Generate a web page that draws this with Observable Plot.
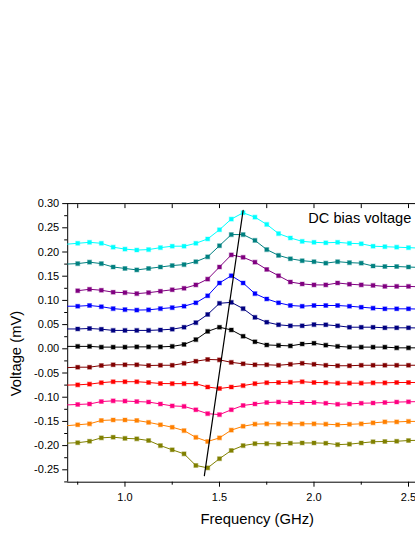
<!DOCTYPE html>
<html><head><meta charset="utf-8">
<script src="https://cdn.jsdelivr.net/npm/d3@7"></script>
<script src="https://cdn.jsdelivr.net/npm/@observablehq/plot@0.6"></script>
<style>body{margin:0;background:#fff}</style>
</head><body><div id="chart"></div>
<script>
const freq = [0.6875, 0.75, 0.8125, 0.875, 0.9375, 1.0, 1.0625, 1.125, 1.1875, 1.25, 1.3125, 1.375, 1.4375, 1.5, 1.5625, 1.625, 1.6875, 1.75, 1.8125, 1.875, 1.9375, 2.0, 2.0625, 2.125, 2.1875, 2.25, 2.3125, 2.375, 2.4375, 2.5, 2.5625];

const cyan = [0.216,0.218,0.220,0.218,0.210,0.206,0.204,0.205,0.209,0.212,0.212,0.218,0.227,0.246,0.268,0.281,0.272,0.257,0.238,0.229,0.222,0.220,0.219,0.220,0.218,0.217,0.212,0.211,0.210,0.209,0.208];
const teal = [0.175,0.176,0.179,0.176,0.169,0.166,0.163,0.166,0.169,0.172,0.174,0.180,0.190,0.213,0.236,0.236,0.224,0.205,0.193,0.186,0.182,0.180,0.177,0.180,0.178,0.177,0.171,0.170,0.170,0.169,0.168];
const purple = [null,0.120,0.123,0.121,0.117,0.116,0.114,0.116,0.119,0.122,0.125,0.132,0.144,0.169,0.194,0.189,0.179,0.164,0.151,0.138,0.134,0.132,0.132,0.136,0.1335,0.132,0.131,0.129,0.129,0.129,0.128];
const blue = [0.088,0.088,0.0895,0.087,0.083,0.081,0.080,0.0805,0.083,0.085,0.088,0.095,0.1095,0.136,0.151,0.136,0.114,0.103,0.095,0.0895,0.088,0.0895,0.0895,0.0895,0.088,0.086,0.084,0.0826,0.0826,0.0826,0.082];
const navy = [0.041,0.041,0.042,0.0405,0.038,0.038,0.038,0.038,0.039,0.0405,0.0446,0.054,0.071,0.094,0.096,0.083,0.065,0.055,0.0496,0.0475,0.0475,0.050,0.0496,0.0475,0.0446,0.0446,0.0446,0.0434,0.0434,0.0434,0.043];
const black = [0.005,0.005,0.005,0.0035,0.0035,0.0035,0.004,0.004,0.004,0.005,0.009,0.019,0.036,0.0446,0.039,0.026,0.0145,0.008,0.007,0.006,0.010,0.0116,0.0075,0.005,0.0035,0.0035,0.0035,0.0035,0.002,0.002,0.002];
const darkRed = [-0.039,-0.038,-0.038,-0.0345,-0.033,-0.033,-0.033,-0.0345,-0.034,-0.034,-0.030,-0.0256,-0.022,-0.0228,-0.028,-0.031,-0.033,-0.033,-0.034,-0.032,-0.030,-0.032,-0.034,-0.035,-0.035,-0.034,-0.034,-0.034,-0.034,-0.034,-0.034];
const red = [-0.075,-0.0745,-0.073,-0.070,-0.068,-0.068,-0.068,-0.0696,-0.0717,-0.072,-0.072,-0.072,-0.079,-0.082,-0.079,-0.076,-0.072,-0.070,-0.0696,-0.069,-0.068,-0.0696,-0.070,-0.071,-0.071,-0.071,-0.0703,-0.0703,-0.0696,-0.0696,-0.0696];
const pink = [-0.116,-0.115,-0.114,-0.109,-0.1075,-0.108,-0.109,-0.110,-0.114,-0.118,-0.119,-0.126,-0.134,-0.136,-0.126,-0.117,-0.114,-0.111,-0.110,-0.111,-0.111,-0.111,-0.1124,-0.1145,-0.114,-0.1124,-0.112,-0.111,-0.110,-0.1095,-0.109];
const orange = [-0.159,-0.157,-0.155,-0.148,-0.147,-0.147,-0.148,-0.152,-0.157,-0.162,-0.169,-0.183,-0.1915,-0.184,-0.168,-0.160,-0.1557,-0.155,-0.155,-0.155,-0.155,-0.155,-0.1557,-0.157,-0.156,-0.155,-0.153,-0.151,-0.151,-0.150,-0.150];
const olive = [-0.195,-0.194,-0.191,-0.184,-0.1826,-0.185,-0.186,-0.1895,-0.200,-0.2087,-0.217,-0.241,-0.246,-0.227,-0.210,-0.200,-0.196,-0.196,-0.1965,-0.195,-0.1945,-0.1945,-0.195,-0.198,-0.197,-0.1945,-0.192,-0.1915,-0.191,-0.1895,-0.189];

const seriesColors = ["#00ffff","#008080","#800080","#0000ff","#000080","#000000","#800000","#ff0000","#ff0080","#ff8000","#808000"];
const seriesValues = [cyan, teal, purple, blue, navy, black, darkRed, red, pink, orange, olive];

const xMajor = [1.0, 1.5, 2.0, 2.5];
const xMinor = [0.75, 1.25, 1.75, 2.25];
const yMajor = [-0.25,-0.20,-0.15,-0.10,-0.05,0.00,0.05,0.10,0.15,0.20,0.25,0.30];
const yMinor = [-0.275,-0.225,-0.175,-0.125,-0.075,-0.025,0.025,0.075,0.125,0.175,0.225,0.275];
const xDomain = [0.697, 2.537];
const yDomain = [-0.2756, 0.30];

const slopeFreq = [1.42, 1.625];
const slopeVolt = [-0.262, 0.286];

const annotationText = ["DC bias voltage"];
const annotationX = [1.97];
const annotationY = [0.2686];
const xLabel = ["Frequency (GHz)"];
const xLabelPos = [1.70];
const yLabel = ["Voltage (mV)"];
const yLabelPos = [-0.0097];

const marks = [];
seriesValues.forEach((vals, k) => {
  const color = seriesColors[k];
  const rows = freq.map((f, i) => ({f, v: vals[i]})).filter(d => d.v != null);
  marks.push(Plot.line(rows, {x: "f", y: "v", stroke: color, strokeWidth: 1, clip: true}));
  marks.push(Plot.dot(rows.filter(d => d.f >= xDomain[0] && d.f <= xDomain[1]),
    {x: "f", y: "v", symbol: "square", r: 2.2, fill: color, stroke: color, strokeOpacity: 0.35, strokeWidth: 1.2}));
});

const slopeRows = slopeFreq.map((f, i) => ({f, v: slopeVolt[i]}));

const chart = Plot.plot({
  width: 415,
  height: 537,
  marginLeft: 67.2,
  marginRight: 0,
  marginTop: 203.1,
  marginBottom: 55.3,
  x: {domain: xDomain, label: null},
  y: {domain: yDomain, label: null},
  style: {fontFamily: "'Liberation Sans', Arial, sans-serif", fontSize: "11px", background: "#fff", color: "#000"},
  marks: [
    Plot.ruleY([yDomain[1]], {stroke: "#000", strokeWidth: 1}),
    Plot.ruleY([yDomain[0]], {stroke: "#000", strokeWidth: 1}),
    Plot.ruleX([xDomain[0]], {stroke: "#000", strokeWidth: 1}),
    Plot.axisY(yMajor, {tickSize: 5, tickPadding: 3.5, tickFormat: d => d.toFixed(2), label: null, fontSize: 11}),
    Plot.axisY(yMinor, {tickSize: 3, tickFormat: () => "", label: null}),
    Plot.axisX(xMajor, {tickSize: 5, tickPadding: 6, tickFormat: d => d.toFixed(1), label: null, fontSize: 11}),
    Plot.axisX(xMinor, {tickSize: 3, tickFormat: () => "", label: null}),
    Plot.axisX([...xMinor, ...xMajor], {anchor: "top", tickSize: -4, tickFormat: () => "", label: null}),
    ...marks,
    Plot.line(slopeRows, {x: "f", y: "v", stroke: "#000", strokeWidth: 1.2}),
    Plot.text(annotationText, {x: annotationX, y: annotationY, text: d => d, textAnchor: "start", lineAnchor: "middle", fontSize: 14.6, fill: "#000"}),
    Plot.text(xLabel, {x: xLabelPos, frameAnchor: "bottom", text: d => d, lineAnchor: "top", dy: 31, fontSize: 14.8, fill: "#000"}),
    Plot.text(yLabel, {y: yLabelPos, frameAnchor: "left", text: d => d, rotate: -90, dx: -51.4, lineAnchor: "middle", textAnchor: "middle", fontSize: 14.8, fill: "#000"})
  ]
});
document.getElementById("chart").appendChild(chart);
</script>
</body></html>
